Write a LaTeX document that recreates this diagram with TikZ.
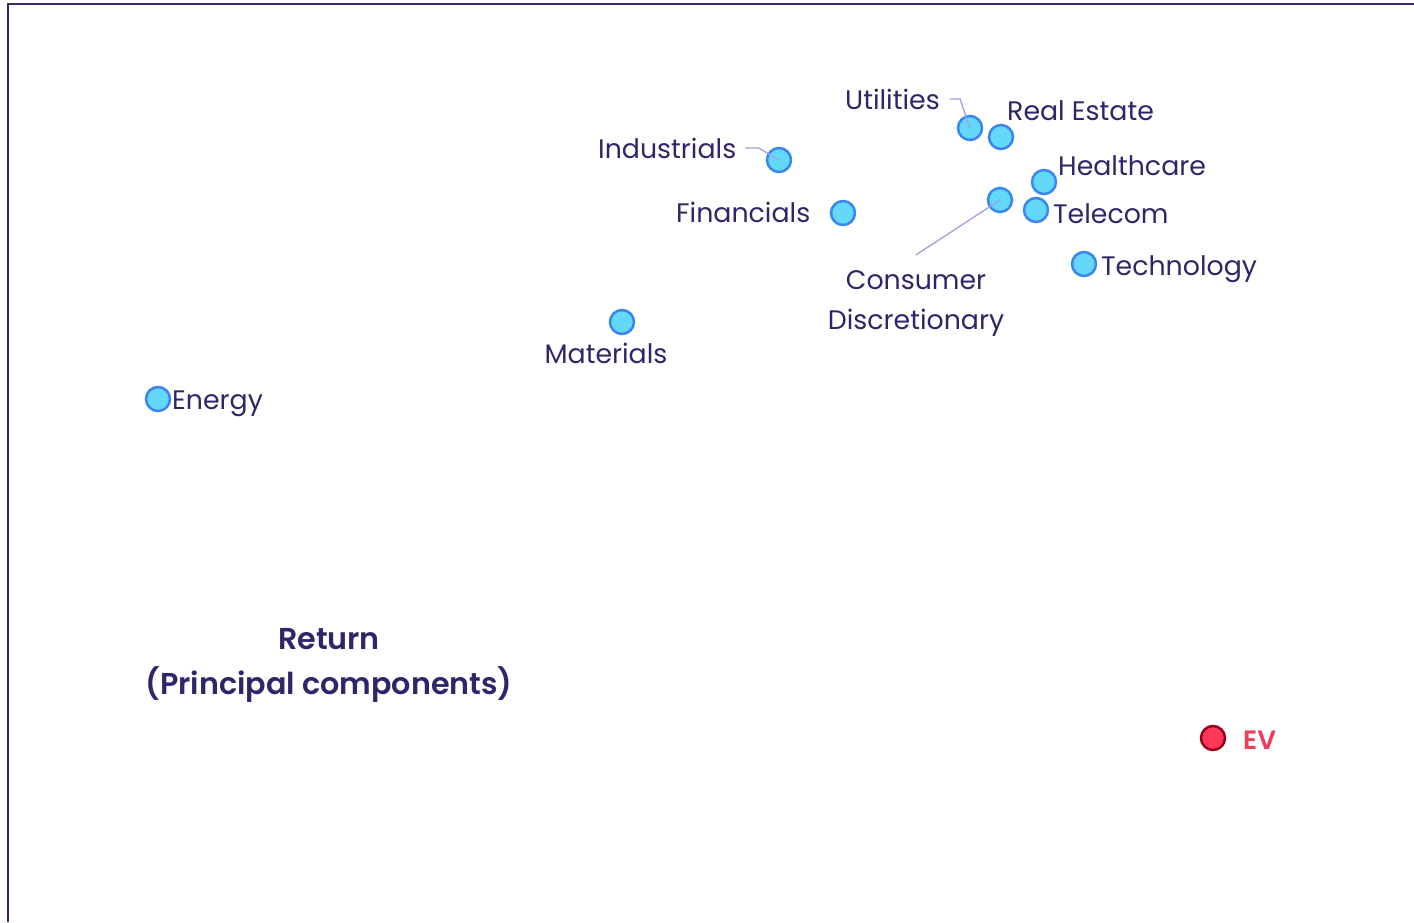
\documentclass[tikz,border=0pt]{standalone}
\usepackage{fontspec}
\setmainfont{Poppins}
\newfontface\semib{Poppins SemiBold}
\definecolor{navy}{RGB}{45,38,105}
\definecolor{framec}{RGB}{46,42,110}
\definecolor{dotfill}{RGB}{99,216,249}
\definecolor{dotline}{RGB}{58,133,240}
\definecolor{leadc}{RGB}{168,155,232}
\definecolor{evfill}{RGB}{255,56,90}
\definecolor{evline}{RGB}{150,0,30}
\definecolor{evtext}{RGB}{240,60,90}
\begin{document}
\begin{tikzpicture}[x=1pt,y=-1pt,
  dot/.style={circle,draw=dotline,fill=dotfill,line width=2.5pt,minimum size=24pt,inner sep=0pt},
  evdot/.style={circle,draw=evline,fill=evfill,line width=2.5pt,minimum size=24pt,inner sep=0pt},
  lbl/.style={text=navy,inner sep=0pt,font=\fontsize{26.8}{40}\selectfont},
  leader/.style={draw=leadc,line width=1.3pt},
  framestyle/.style={draw=framec,line width=2pt}
]
\useasboundingbox (0,0) rectangle (1414,922);
\draw[framestyle] (7.5,922) -- (7.5,3.5) -- (1414,3.5);

% dots
\node[dot] (dUtil) at (970,128) {};
\node[dot] (dReal) at (1001,137) {};
\node[dot] (dInd) at (779,160) {};
\node[dot] (dFin) at (843,213) {};
\node[dot] (dCons) at (1000,200) {};
\node[dot] (dHealth) at (1044,182) {};
\node[dot] (dTel) at (1036,210) {};
\node[dot] (dTech) at (1084,264) {};
\node[dot] (dMat) at (622,322) {};
\node[dot] (dEn) at (158,399) {};
\node[evdot] (dEV) at (1213,738) {};

% labels
\node[lbl,anchor=base west] (lUtil) at (845,109) {Utilities};
\node[lbl,anchor=base west] (lReal) at (1007,120) {Real Estate};
\node[lbl,anchor=base west] (lInd) at (598,158) {Industrials};
\node[lbl,anchor=base west] (lFin) at (676,222) {Financials};
\node[lbl,anchor=base west] (lHealth) at (1058,175) {Healthcare};
\node[lbl,anchor=base west] (lTel) at (1053,223) {Telecom};
\node[lbl,anchor=base west] (lTech) at (1101,275) {Technology};
\node[lbl,anchor=base,align=center] (lCons) at (916,329) {Consumer\\Discretionary};
\node[lbl,anchor=base] (lMat) at (606,363) {Materials};
\node[lbl,anchor=base west] (lEn) at (172,409) {Energy};
\node[lbl,anchor=base,align=center,font=\fontsize{30.2}{45}\selectfont\semib] (lRet) at (329,694) {Return\\(Principal components)};
\node[inner sep=0pt,anchor=base west,text=evtext,font=\fontsize{26.5}{30}\selectfont\semib] (lEV) at (1243,749) {EV};

% leaders
\draw[leader] ([xshift=10pt]lUtil.east) -- ([xshift=20pt]lUtil.east) -- (dUtil.center);
\draw[leader] ([xshift=9pt]lInd.east) -- ([xshift=22pt]lInd.east) -- (dInd.center);
\draw[leader] ([yshift=15pt]lCons.north) -- (dCons.center);
\end{tikzpicture}
\end{document}
